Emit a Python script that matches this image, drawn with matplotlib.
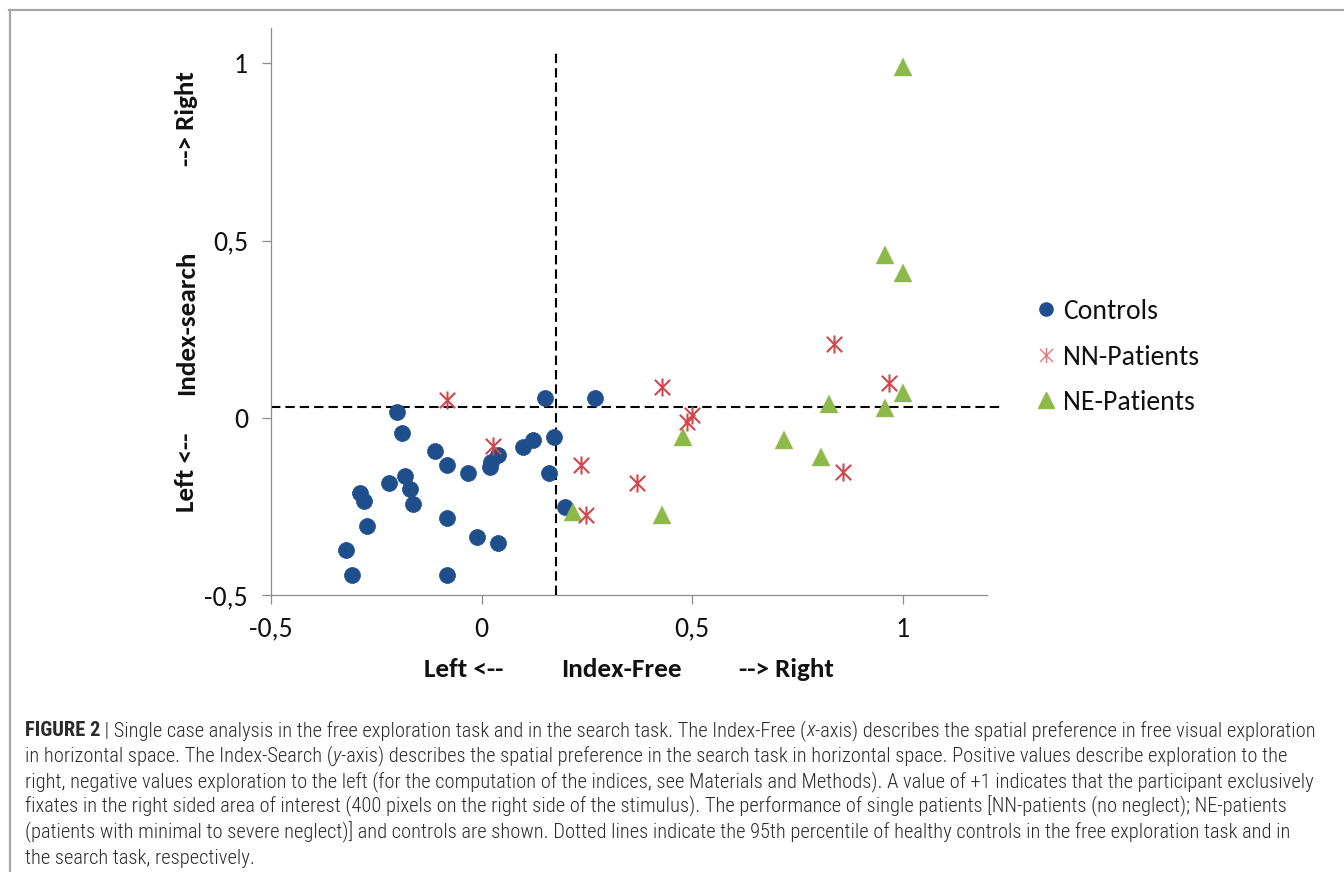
import matplotlib
matplotlib.use("Agg")
import matplotlib.pyplot as plt
from matplotlib.lines import Line2D
from matplotlib.path import Path
from matplotlib import font_manager as fm

# ---------------- data ----------------
controls_x = [0.150, 0.269, -0.202, -0.190, -0.110, -0.081, -0.033, 0.019, 0.022, 0.038,
              0.098, 0.121, 0.171, 0.160, -0.181, -0.221, -0.169, -0.162, -0.288, -0.279,
              -0.271, -0.081, -0.012, 0.038, -0.321, -0.307, -0.081, 0.198]
controls_y = [0.056, 0.056, 0.017, -0.042, -0.095, -0.133, -0.156, -0.138, -0.125, -0.104,
              -0.081, -0.062, -0.053, -0.155, -0.164, -0.184, -0.201, -0.243, -0.213, -0.234,
              -0.305, -0.283, -0.336, -0.353, -0.373, -0.444, -0.444, -0.251]

nn_x = [-0.081, 0.026, 0.236, 0.248, 0.429, 0.488, 0.500, 0.369, 0.836, 0.967, 0.857]
nn_y = [0.051, -0.079, -0.133, -0.274, 0.088, -0.011, 0.008, -0.184, 0.209, 0.099, -0.153]

ne_x = [1.000, 0.957, 1.000, 1.000, 0.826, 0.957, 0.717, 0.807, 0.479, 0.429, 0.217]
ne_y = [0.990, 0.460, 0.410, 0.070, 0.040, 0.028, -0.062, -0.110, -0.054, -0.274, -0.265]

cut_x = 0.176   # 95th percentile controls, free exploration
cut_y = 0.030   # 95th percentile controls, search

x_ticks = [-0.5, 0, 0.5, 1]
x_ticklabels = ["-0,5", "0", "0,5", "1"]
y_ticks = [-0.5, 0, 0.5, 1]
y_ticklabels = ["-0,5", "0", "0,5", "1"]

series_labels = ["Controls", "NN-Patients", "NE-Patients"]

caption_lines = [
    [("FIGURE 2", "bold", "normal"), (" | Single case analysis in the free exploration task and in the search task. The Index-Free (", "normal", "normal"),
     ("x", "normal", "italic"), ("-axis) describes the spatial preference in free visual exploration", "normal", "normal")],
    [("in horizontal space. The Index-Search (", "normal", "normal"), ("y", "normal", "italic"),
     ("-axis) describes the spatial preference in the search task in horizontal space. Positive values describe exploration to the", "normal", "normal")],
    [("right, negative values exploration to the left (for the computation of the indices, see Materials and Methods). A value of +1 indicates that the participant exclusively", "normal", "normal")],
    [("fixates in the right sided area of interest (400 pixels on the right side of the stimulus). The performance of single patients [NN-patients (no neglect); NE-patients", "normal", "normal")],
    [("(patients with minimal to severe neglect)] and controls are shown. Dotted lines indicate the 95th percentile of healthy controls in the free exploration task and in", "normal", "normal")],
    [("the search task, respectively.", "normal", "normal")],
]

# ---------------- fonts ----------------
available = {f.name for f in fm.fontManager.ttflist}
def pick(cands):
    for c in cands:
        if c in available:
            return c
    return "DejaVu Sans"

chart_font = pick(["Carlito", "Lato", "Open Sans", "DejaVu Sans"])
cap_font = pick(["Roboto Condensed", "Liberation Sans Narrow", "Roboto", "Liberation Sans"])

W, H = 1344, 872
fig = plt.figure(figsize=(W / 100, H / 100), dpi=100)
fig.patch.set_facecolor("white")

def fx(px):
    return px / W

def fy(py):
    return 1 - py / H

# frame lines
fig.add_artist(Line2D([fx(9), fx(1344)], [fy(10.5), fy(10.5)], color="#a6a6a6", lw=1.6))
fig.add_artist(Line2D([fx(9.5), fx(9.5)], [fy(10.5), fy(872)], color="#a6a6a6", lw=1.6))

ax = fig.add_axes([fx(271), fy(595), fx(987) - fx(271), fy(28) - fy(595)])
ax.set_xlim(-0.5, 1.2)
ax.set_ylim(-0.5, 1.1)

for s in ["top", "right"]:
    ax.spines[s].set_visible(False)
for s in ["left", "bottom"]:
    ax.spines[s].set_color("#8c8c8c")
    ax.spines[s].set_linewidth(0.9)

ax.set_xticks(x_ticks)
ax.set_xticklabels(x_ticklabels)
ax.set_yticks(y_ticks)
ax.set_yticklabels(y_ticklabels)
ax.tick_params(axis="both", direction="out", length=6.5, width=0.9, color="#8c8c8c",
               labelsize=20, labelcolor="#111111")
ax.tick_params(axis="x", pad=9)
ax.tick_params(axis="y", pad=10)
for lab in ax.get_xticklabels() + ax.get_yticklabels():
    lab.set_fontfamily(chart_font)

# dashed cut-off lines
dash = (4.5, 2.4)
ax.add_line(Line2D([cut_x, cut_x], [-0.5, 1.034], color="black", lw=1.5,
                   dashes=dash, clip_on=False, zorder=2))
ax.add_line(Line2D([-0.5, 1.24], [cut_y, cut_y], color="black", lw=1.5,
                   dashes=dash, clip_on=False, zorder=2))

# asterisk marker (vertical line + X)
ast = Path([(0, -1), (0, 1), (-0.85, -0.85), (0.85, 0.85), (-0.85, 0.85), (0.85, -0.85)],
           [Path.MOVETO, Path.LINETO, Path.MOVETO, Path.LINETO, Path.MOVETO, Path.LINETO])

c_blue = "#1f4e8c"
c_red = "#d0484c"
c_green = "#8db84a"

h1, = ax.plot(controls_x, controls_y, linestyle="none", marker="o", markersize=11.5,
              markerfacecolor=c_blue, markeredgecolor=c_blue, markeredgewidth=0.5, zorder=3)
h3, = ax.plot(ne_x, ne_y, linestyle="none", marker="^", markersize=13.5,
              markerfacecolor=c_green, markeredgecolor=c_green, markeredgewidth=0.3, zorder=4)
h2, = ax.plot(nn_x, nn_y, linestyle="none", marker=ast, markersize=13,
              markerfacecolor="none", markeredgecolor=c_red, markeredgewidth=1.5, zorder=5)

lh1 = Line2D([], [], linestyle="none", marker="o", markersize=9.5, color=c_blue)
lh2 = Line2D([], [], linestyle="none", marker=ast, markersize=11, markerfacecolor="none",
             markeredgecolor="#e07a7c", markeredgewidth=1.0)
lh3 = Line2D([], [], linestyle="none", marker="^", markersize=11, color=c_green)

leg = ax.legend([lh1, lh2, lh3], series_labels, loc="center left",
                bbox_to_anchor=(fx(1038), fy(357)), bbox_transform=fig.transFigure,
                frameon=False, fontsize=20, labelspacing=0.74, handlelength=0.6,
                handletextpad=0.3, borderaxespad=0, borderpad=0)
for t in leg.get_texts():
    t.set_fontfamily(chart_font)
    t.set_color("#111111")

# axis labels (bold, in pieces)
lab_kw = dict(fontsize=19.5, fontweight="bold", family=chart_font, color="#111111")
fig.text(fx(464), fy(669), "Left <--", ha="center", va="center", **lab_kw)
fig.text(fx(621), fy(669), "Index-Free", ha="center", va="center", **lab_kw)
fig.text(fx(786), fy(669), "--> Right", ha="center", va="center", **lab_kw)
fig.text(fx(187), fy(472), "Left <--", ha="center", va="center", rotation=90, **lab_kw)
fig.text(fx(187), fy(323), "Index-search", ha="center", va="center", rotation=90, **lab_kw)
fig.text(fx(187), fy(119), "--> Right", ha="center", va="center", rotation=90, **lab_kw)

# ---------------- caption ----------------
renderer = fig.canvas.get_renderer()
cap_color = "#2b2b2b"
cap_weight_normal = "light"

def line_width(segs, size):
    total = 0
    tmp = []
    for txt, wt, st in segs:
        wt2 = cap_weight_normal if wt == "normal" else wt
        t = fig.text(0, 0, txt, fontsize=size, family=cap_font, fontweight=wt2, fontstyle=st)
        total += t.get_window_extent(renderer).width
        tmp.append(t)
    for t in tmp:
        t.remove()
    return total

x0 = 25
target = 1318 - x0
size = 15.0
w = line_width(caption_lines[0], size)
size = size * target / w

base0 = 736
step = 25.6
for i, segs in enumerate(caption_lines):
    xpos = x0
    ypx = base0 + i * step
    for txt, wt, st in segs:
        wt2 = cap_weight_normal if wt == "normal" else wt
        t = fig.text(fx(xpos), fy(ypx), txt, fontsize=size, family=cap_font,
                     fontweight=wt2, fontstyle=st, color=cap_color, ha="left", va="baseline")
        xpos += t.get_window_extent(renderer).width

fig.savefig("out.png", dpi=100, facecolor="white")
